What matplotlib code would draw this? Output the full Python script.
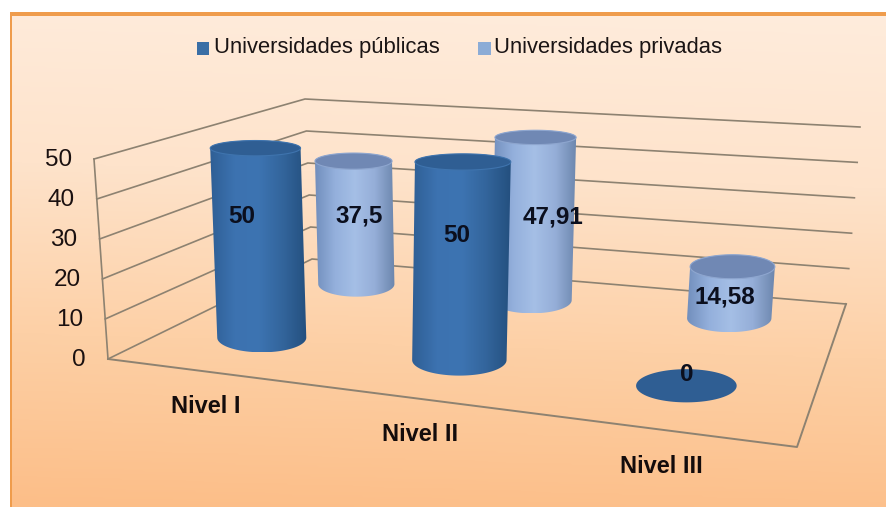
import matplotlib
matplotlib.use('Agg')
import matplotlib.pyplot as plt
from matplotlib.colors import LinearSegmentedColormap
from matplotlib.patches import Polygon, Rectangle
import numpy as np

categories = ['Nivel I', 'Nivel II', 'Nivel III']
series_names = ['Universidades públicas', 'Universidades privadas']
publicas = [50, 50, 0]
privadas = [37.5, 47.91, 14.58]
publicas_txt = ['50', '50', '0']
privadas_txt = ['37,5', '47,91', '14,58']
y_ticks = [0, 10, 20, 30, 40, 50]

plt.rcParams['font.family'] = ['Liberation Sans', 'DejaVu Sans']

# esquinas de la caja 3D en pixeles: frente-izq, fondo-izq, fondo-der, frente-der
floor_quad = [(108, 359), (312, 259), (846, 304), (797, 447)]
top_quad = [(94, 159), (305, 99), (860, 127), (815, 212)]
grid_color = '#8d8271'
z_max = 50.0


def homography(quad):
    src = [(0, 0), (0, 1), (1, 1), (1, 0)]
    A, b = [], []
    for (u, v), (x, y) in zip(src, quad):
        A.append([u, v, 1, 0, 0, 0, -u * x, -v * x])
        A.append([0, 0, 0, u, v, 1, -u * y, -v * y])
        b += [x, y]
    return np.append(np.linalg.solve(np.array(A, float), np.array(b, float)), 1).reshape(3, 3)


H_floor = homography(floor_quad)
H_top = homography(top_quad)


def project(cat, depth, z):
    # cat en unidades de categoria (0 a 3), depth de 0 a 1, z en valor del eje
    p = np.array([cat / len(categories), depth, 1.0])
    a = H_floor @ p
    b = H_top @ p
    a, b = a[:2] / a[2], b[:2] / b[2]
    return a + (b - a) * z / z_max


def ellipse(cx, cy, rx, ry):
    t = np.linspace(0, 2 * np.pi, 121)[:-1]
    return np.column_stack([cx + rx * np.cos(t), cy + ry * np.sin(t)])


def draw_cylinder(ax, cat, depth, value, body_cmap, top_color, rim_color, stretch=1.0):
    c = cat + 0.5
    base = project(c, depth, 0)
    top = project(c, depth, value * stretch)
    # el radio crece hacia el frente de la caja
    rx0 = 0.12 * base[1] + 4
    rx1 = rx0 * (1 + 0.015 * value / z_max)
    ry0 = rx0 * 0.33
    ry1 = rx1 * (0.33 - 0.16 * value / z_max)
    if value == 0:
        ax.add_patch(Polygon(ellipse(base[0], base[1], rx0, ry0), closed=True, fc=top_color, ec='none', zorder=3))
        return
    t = np.linspace(np.pi, 0, 60)
    lower = np.column_stack([base[0] + rx0 * np.cos(t), base[1] + ry0 * np.sin(t)])
    t = np.linspace(0, np.pi, 60)
    upper = np.column_stack([top[0] + rx1 * np.cos(t), top[1] - ry1 * np.sin(t)])
    outline = np.vstack([lower, upper])
    clip = Polygon(outline, closed=True, transform=ax.transData, fc='none', ec='none')
    ax.add_patch(clip)
    x0, x1 = outline[:, 0].min(), outline[:, 0].max()
    y0, y1 = outline[:, 1].min(), outline[:, 1].max()
    im = ax.imshow(np.linspace(0, 1, 128).reshape(1, -1), cmap=body_cmap, extent=(x0, x1, y1, y0),
                   aspect='auto', zorder=3, interpolation='bilinear')
    im.set_clip_path(clip)
    ax.add_patch(Polygon(ellipse(top[0], top[1], rx1, ry1), closed=True, fc=top_color, ec=rim_color, lw=0.8, zorder=3))


fig = plt.figure(figsize=(8.87, 5.07), dpi=100)
ax = fig.add_axes([0, 0, 1, 1])
ax.axis('off')

# fondo degradado
bg_cmap = LinearSegmentedColormap.from_list('bg', ['#ffecdc', '#fee3cb', '#fdd0a6', '#fcbe88'])
yy, xx = np.mgrid[0:1:200j, 0:1:200j]
ax.imshow(yy * 0.95 + 0.05 * (1 - xx), cmap=bg_cmap, extent=(12, 887, 507, 14), aspect='auto', zorder=0,
          vmin=0, vmax=1)
ax.add_patch(Rectangle((10, 12), 2.5, 495, fc='#ef9c4c', ec='none', zorder=1))
ax.add_patch(Rectangle((10, 12), 877, 4, fc='#ef9c4c', ec='none', zorder=1))

# paredes y rejilla
for val in y_ticks:
    p_front = project(0, 0, val)
    p_back = project(0, 1, val)
    p_right = project(3, 1, val)
    ax.plot([p_front[0], p_back[0], p_right[0]], [p_front[1], p_back[1], p_right[1]],
            color=grid_color, lw=1.2, zorder=2, solid_joinstyle='miter')
    ax.text(p_front[0] - 22, p_front[1] + 1, str(val), fontsize=17.5, color='#1a1010', ha='right', va='center', zorder=6)
wall = [project(0, 0, 0), project(0, 0, z_max)]
ax.plot([wall[0][0], wall[1][0]], [wall[0][1], wall[1][1]], color=grid_color, lw=1.2, zorder=2)
floor = [project(0, 0, 0), project(3, 0, 0), project(3, 1, 0)]
ax.plot([q[0] for q in floor], [q[1] for q in floor], color=grid_color, lw=1.4, zorder=2)

pub_cmap = LinearSegmentedColormap.from_list('pub', ['#2f5f95', '#3c72b0', '#3d74b2', '#33659c', '#24507f'])
priv_cmap = LinearSegmentedColormap.from_list('priv', ['#728fbd', '#94b0dc', '#a5bfe6', '#95aed8', '#6c86ad'])

depth_pub = 0.26
depth_priv = 0.78

for i, val in enumerate(privadas):
    draw_cylinder(ax, i, depth_priv, val, priv_cmap, '#7088b4', '#8ea6cf', stretch=0.965)
for i, val in enumerate(publicas):
    draw_cylinder(ax, i, depth_pub, val, pub_cmap, '#2f5e93', '#3f74ae', stretch=0.99)

# etiquetas de datos, desplazadas desde la tapa del cilindro
pub_offsets = [(-14, 70), (-6, 76), (0, -11)]
priv_offsets = [(6, 59), (17, 85), (-8, 32)]
for i in range(len(categories)):
    p = project(i + 0.5, depth_pub, publicas[i])
    ax.text(p[0] + pub_offsets[i][0], p[1] + pub_offsets[i][1], publicas_txt[i], fontsize=17.5, fontweight='bold',
            color='#0b0f1e', ha='center', va='center', zorder=6)
    p = project(i + 0.5, depth_priv, privadas[i])
    ax.text(p[0] + priv_offsets[i][0], p[1] + priv_offsets[i][1], privadas_txt[i], fontsize=17.5, fontweight='bold',
            color='#0b0f1e', ha='center', va='center', zorder=6)

# categorias
cat_offsets = [(3, 35), (7, 36), (3, 37)]
for i, name in enumerate(categories):
    p = project(i + 0.5, 0, 0)
    ax.text(p[0] + cat_offsets[i][0], p[1] + cat_offsets[i][1], name, fontsize=17, fontweight='bold',
            color='#140c0c', ha='center', va='center', zorder=6)

# leyenda
ax.add_patch(Rectangle((197, 42), 12, 13, fc='#3a6ea5', ec='none', zorder=6))
ax.text(214, 48, series_names[0], fontsize=15.8, color='#1a1414', ha='left', va='center', zorder=6)
ax.add_patch(Rectangle((478, 42), 13, 13, fc='#8cacd6', ec='none', zorder=6))
ax.text(494, 48, series_names[1], fontsize=15.8, color='#1a1414', ha='left', va='center', zorder=6)

ax.set_xlim(0, 887)
ax.set_ylim(507, 0)
fig.savefig('out.png', dpi=100, facecolor='white')
